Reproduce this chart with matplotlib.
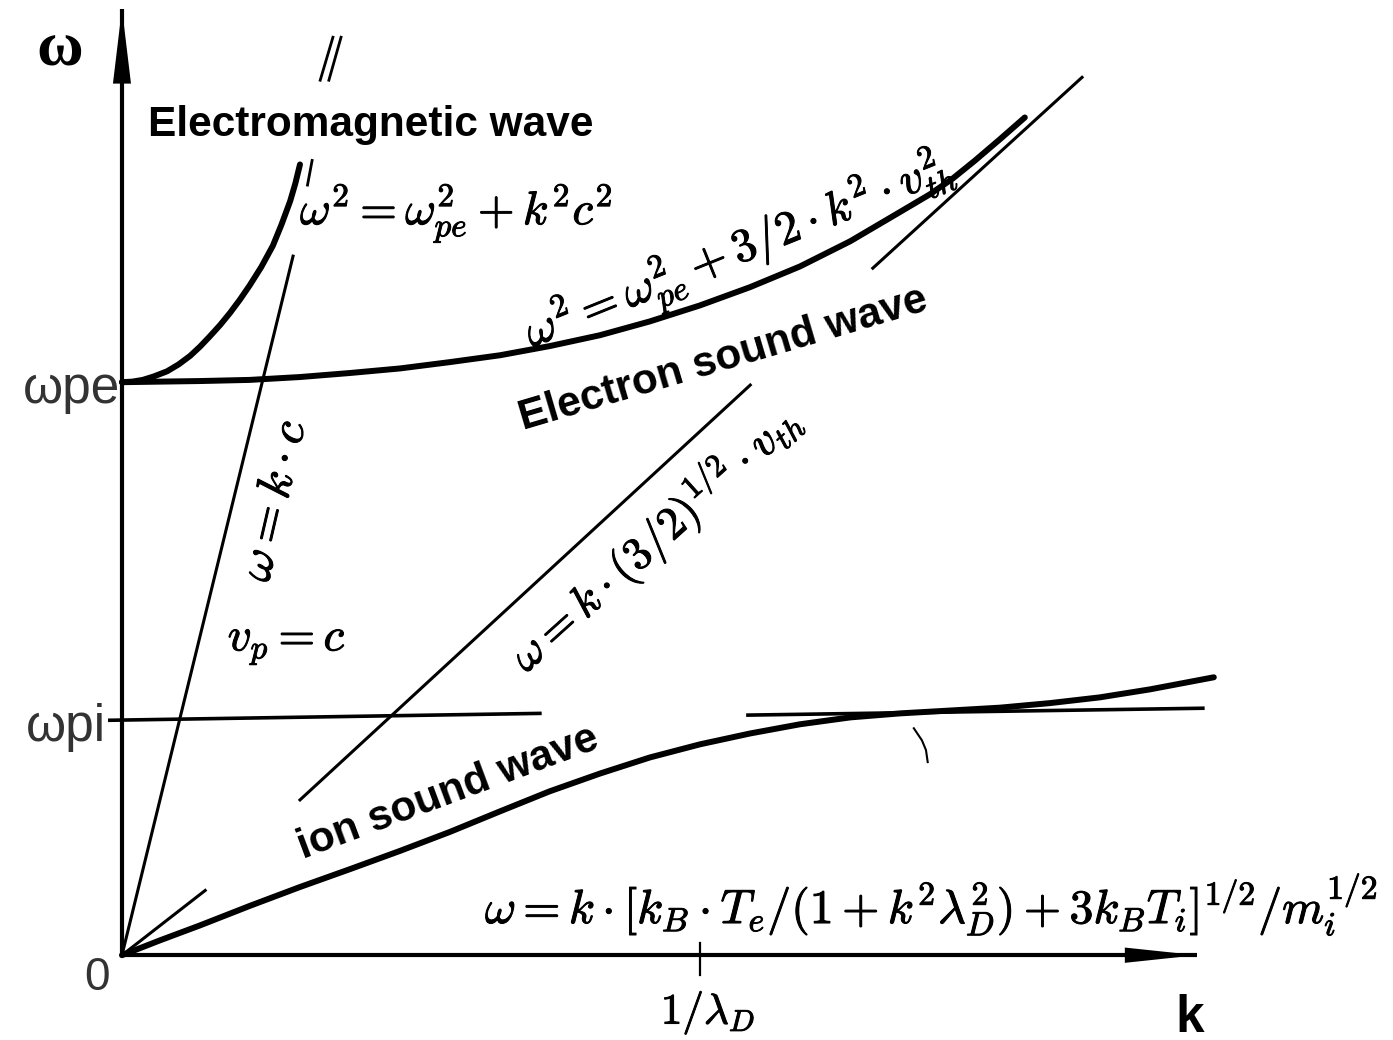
import matplotlib
matplotlib.use("Agg")
import matplotlib.pyplot as plt
import matplotlib.patheffects as pe

# =====================================================
# =========       Constants and options       =========
# =====================================================

# k in units of 1/lambda_D, omega in units of omega_pe
K_MIN, K_MAX = -0.211, 2.199
W_MIN, W_MAX = -0.148, 1.667

OMEGA_PE = 1.0
OMEGA_PI = 0.41
K_DEBYE = 1.0

# electromagnetic branch: w^2 = w_pe^2 + k^2 c^2
em_k = [0.0, 0.018, 0.036, 0.055, 0.078, 0.098, 0.118, 0.135, 0.152, 0.170,
        0.187, 0.204, 0.221, 0.241, 0.261, 0.276, 0.291, 0.300, 0.308]
em_w = [1.000, 1.001, 1.004, 1.010, 1.019, 1.031, 1.046, 1.062, 1.080, 1.100,
        1.121, 1.144, 1.169, 1.201, 1.238, 1.275, 1.316, 1.347, 1.380]

# light line w = k c
light_k = [0.0, 0.296]
light_w = [0.0, 1.220]

# electron sound (Langmuir) branch
elec_k = [0.0, 0.066, 0.135, 0.221, 0.308, 0.394, 0.481, 0.567, 0.654, 0.740,
          0.827, 0.913, 1.000, 1.087, 1.173, 1.260, 1.346, 1.398, 1.438, 1.476,
          1.519, 1.562]
elec_w = [1.000, 1.001, 1.002, 1.004, 1.009, 1.016, 1.024, 1.035, 1.047, 1.063,
          1.082, 1.106, 1.134, 1.166, 1.202, 1.246, 1.297, 1.328, 1.356, 1.387,
          1.424, 1.462]

# asymptote w = k (3/2)^1/2 v_th, drawn in visible pieces
asym_k = [[0.0, 0.144], [0.308, 1.087], [1.299, 1.661]]
asym_w = [[0.0, 0.113], [0.271, 0.995], [1.199, 1.532]]

# ion sound branch
ion_k = [0.0, 0.066, 0.135, 0.221, 0.308, 0.394, 0.481, 0.567, 0.654, 0.740,
         0.827, 0.913, 1.000, 1.087, 1.173, 1.260, 1.346, 1.433, 1.519, 1.606,
         1.692, 1.779, 1.889]
ion_w = [0.0, 0.026, 0.052, 0.086, 0.119, 0.150, 0.182, 0.215, 0.251, 0.286,
         0.317, 0.345, 0.368, 0.387, 0.403, 0.415, 0.422, 0.427, 0.432, 0.440,
         0.450, 0.464, 0.485]

# omega_pi level line (two pieces)
wpi_k = [[-0.021, 0.723], [1.083, 1.870]]
wpi_w = [[0.410, 0.422], [0.419, 0.431]]

# small break marks on the sketch
marks_k = [[0.343, 0.365], [0.358, 0.379], [0.321, 0.329]]
marks_w = [[1.527, 1.602], [1.527, 1.602], [1.344, 1.387]]
arc_k = [1.370, 1.384, 1.391, 1.394]
arc_w = [0.396, 0.375, 0.358, 0.337]

X_AXIS_END = 1.860
Y_AXIS_END = 1.652

THICK = 4.3
THIN = 2.2
AXIS_LW = 3.0

MATH_FONT = "cm"
LABEL_FONT = "Liberation Sans"

# slightly heavier strokes for the thin CM glyphs
INK = [pe.withStroke(linewidth=0.7, foreground="black")]


# =====================================================
# =========           Functions               =========
# =====================================================

def draw_axes(ax):
    ax.plot([0, X_AXIS_END], [0, 0], color="black", lw=AXIS_LW, solid_capstyle="butt")
    ax.plot([0, 0], [0, Y_AXIS_END], color="black", lw=AXIS_LW, solid_capstyle="butt")
    ax.annotate("", xy=(0, Y_AXIS_END), xytext=(0, Y_AXIS_END - 0.13),
                arrowprops=dict(arrowstyle="-|>,head_length=5.4,head_width=0.65",
                                mutation_scale=10, color="black", lw=0,
                                shrinkA=0, shrinkB=0))
    ax.annotate("", xy=(X_AXIS_END, 0), xytext=(X_AXIS_END - 0.125, 0),
                arrowprops=dict(arrowstyle="-|>,head_length=5.2,head_width=0.55",
                                mutation_scale=10, color="black", lw=0,
                                shrinkA=0, shrinkB=0))
    # tick at 1/lambda_D
    ax.plot([K_DEBYE, K_DEBYE], [0.021, -0.035], color="black", lw=1.6)


def draw_branches(ax):
    curve = dict(color="black", lw=THICK, solid_capstyle="round", solid_joinstyle="round")
    ax.plot(em_k, em_w, **curve)
    ax.plot(light_k, light_w, color="black", lw=THIN)
    ax.plot(elec_k, elec_w, **curve)
    for ks, ws in zip(asym_k, asym_w):
        ax.plot(ks, ws, color="black", lw=THIN)
    ax.plot(ion_k, ion_w, **curve)
    for ks, ws in zip(wpi_k, wpi_w):
        ax.plot(ks, ws, color="black", lw=THIN + 0.4)
    for ks, ws in zip(marks_k, marks_w):
        ax.plot(ks, ws, color="black", lw=2.0)
    ax.plot(arc_k, arc_w, color="black", lw=1.5)


def draw_labels(ax):
    # axis names and levels
    ax.text(-0.107, 1.579, "ω", fontsize=46, fontweight="bold",
            family="Liberation Serif", ha="center", va="center")
    ax.text(1.848, -0.110, "k", fontsize=37, fontweight="bold",
            family=LABEL_FONT, ha="center", va="center")
    ax.text(-0.004, OMEGA_PE - 0.012, "ωpe", fontsize=37, color="#333333",
            family=LABEL_FONT, ha="right", va="center")
    ax.text(-0.028, OMEGA_PI - 0.012, "ωpi", fontsize=37, color="#333333",
            family=LABEL_FONT, ha="right", va="center")
    ax.text(-0.043, -0.040, "0", fontsize=33, color="#333333",
            family=LABEL_FONT, ha="center", va="center")
    ax.text(1.014, -0.101, r"$1/\lambda_D$", fontsize=31, ha="center", va="center",
            path_effects=INK)

    # wave names
    ax.text(0.045, 1.449, "Electromagnetic wave", fontsize=30.5, fontweight="bold",
            family=LABEL_FONT, ha="left", va="center")
    ax.text(1.040, 1.040, "Electron sound wave", fontsize=30.5, fontweight="bold",
            family=LABEL_FONT, ha="center", va="center", rotation=16.5,
            rotation_mode="anchor")
    ax.text(0.564, 0.283, "ion sound wave", fontsize=30.5, fontweight="bold",
            family=LABEL_FONT, ha="center", va="center", rotation=20.5,
            rotation_mode="anchor")

    # dispersion relations
    ax.text(0.308, 1.295, r"$\omega^2 = \omega_{pe}^2 + k^2c^2$", fontsize=34,
            ha="left", va="center", path_effects=INK)
    ax.text(1.069, 1.228, r"$\omega^2 = \omega_{pe}^2 + 3/2 \cdot k^2 \cdot v_{th}^2$",
            fontsize=34, ha="center", va="center", rotation=22, rotation_mode="anchor",
            path_effects=INK)
    ax.text(0.262, 0.794, r"$\omega = k \cdot c$", fontsize=35, ha="center",
            va="center", rotation=77, rotation_mode="anchor", path_effects=INK)
    ax.text(0.285, 0.541, r"$v_p = c$", fontsize=34, ha="center", va="center",
            path_effects=INK)
    ax.text(0.922, 0.729, r"$\omega = k \cdot (3/2)^{1/2} \cdot v_{th}$", fontsize=33,
            ha="center", va="center", rotation=42, rotation_mode="anchor",
            path_effects=INK)
    ax.text(0.628, 0.087,
            r"$\omega = k \cdot [k_B \cdot T_e/(1 + k^2\lambda_D^2) + 3k_BT_i]^{1/2}/m_i^{1/2}$",
            fontsize=34.5, ha="left", va="center", path_effects=INK)


# =====================================================
# =========              Main                 =========
# =====================================================

def main():
    plt.rcParams["mathtext.fontset"] = MATH_FONT
    fig = plt.figure(figsize=(13.93, 10.40), dpi=100)
    ax = fig.add_axes([0, 0, 1, 1])
    ax.set_xlim(K_MIN, K_MAX)
    ax.set_ylim(W_MIN, W_MAX)
    ax.axis("off")

    draw_axes(ax)
    draw_branches(ax)
    draw_labels(ax)

    fig.savefig("out.png", dpi=100, facecolor="white")
    plt.close(fig)


if __name__ == "__main__":
    main()
